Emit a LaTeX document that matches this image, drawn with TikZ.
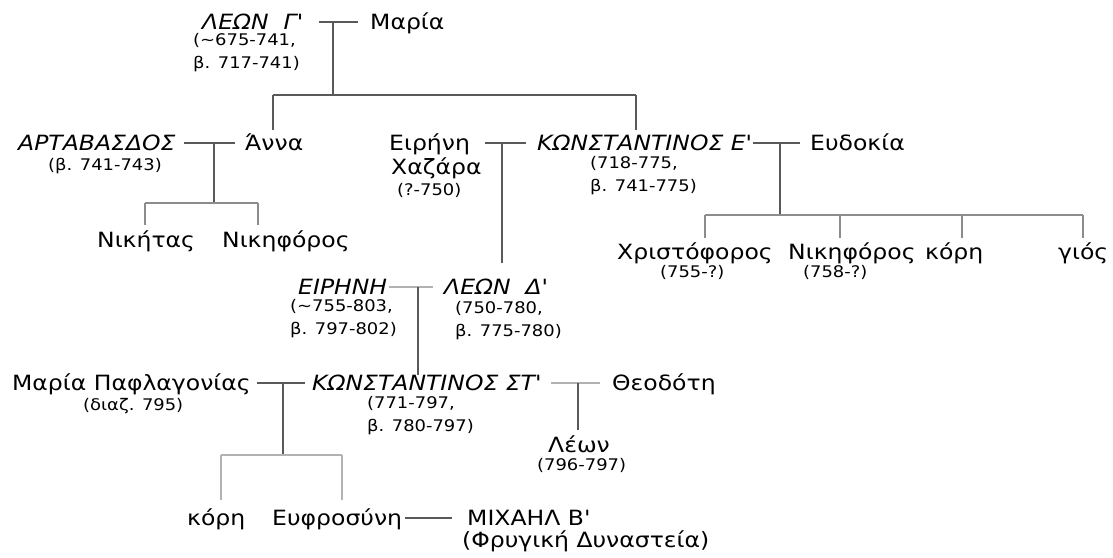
\documentclass[tikz,border=0pt]{standalone}
\usepackage{fontspec}
\setmainfont{DejaVu Sans}[FakeStretch=1.12]
\tikzset{
	name node/.style={inner sep=0, anchor=west, text height=15pt, text depth=0pt, font=\fontsize{21}{25}\selectfont},
	ruler node/.style={name node, font=\fontsize{21}{25}\selectfont\itshape},
	date node/.style={inner sep=0, anchor=north west, align=left, font=\fontsize{16}{23}\selectfont},
	dark line/.style={draw=black!65, line width=1.6pt},
	mid line/.style={draw=black!45, line width=1.6pt},
	light line/.style={draw=black!30, line width=1.6pt},
	to child/.style={shorten >=#1},
}
\newcommand{\ap}{\textquotesingle}

\begin{document}
\begin{tikzpicture}[x=1pt, y=-1pt]
  \path[fill=white] (0,0) rectangle (1113,557);
  \useasboundingbox (0,0) rectangle (1113,557);

  % first generation
  \node(leon3)[ruler node] at (202,22) {ΛΕΩΝ~~Γ\ap};
  \node(leon3d)[date node] at (193,33.5) {(\textasciitilde675-741,\\β. 717-741)};
  \node(maria)[name node] at (370,22) {Μαρία};

  % second generation
  \node(artav)[ruler node] at (18,143) {ΑΡΤΑΒΑΣΔΟΣ};
  \node(artavd)[date node] at (48,158.5) {(β. 741-743)};
  \node(anna)[name node] at (245,143) {Άννα};
  \node(irene1)[name node] at (389,143) {Ειρήνη};
  \node(irene1b)[name node] at (391,167) {Χαζάρα};
  \node(irene1d)[date node] at (397,183.5) {(?-750)};
  \node(kon5)[ruler node] at (537,143) {ΚΩΝΣΤΑΝΤΙΝΟΣ Ε\ap};
  \node(kon5d)[date node] at (590,156.5) {(718-775,\\β. 741-775)};
  \node(eudokia)[name node] at (810,143) {Ευδοκία};

  % third generation
  \node(nikitas)[name node] at (97,240) {Νικήτας};
  \node(nikif1)[name node] at (222,240) {Νικηφόρος};
  \node(christ)[name node] at (617,252) {Χριστόφορος};
  \node(christd)[date node] at (660,265.5) {(755-?)};
  \node(nikif2)[name node] at (788,252) {Νικηφόρος};
  \node(nikif2d)[date node] at (803,265.5) {(758-?)};
  \node(kori1)[name node] at (925,252) {κόρη};
  \node(gios)[name node] at (1058,252) {γιός};
  \node(irene2)[ruler node] at (298,287) {ΕΙΡΗΝΗ};
  \node(irene2d)[date node] at (290,299.5) {(\textasciitilde755-803,\\β. 797-802)};
  \node(leon4)[ruler node] at (444,287) {ΛΕΩΝ~~Δ\ap};
  \node(leon4d)[date node] at (455,301.5) {(750-780,\\β. 775-780)};

  % fourth generation
  \node(mariap)[name node] at (12,383) {Μαρία Παφλαγονίας};
  \node(mariapd)[date node] at (83,398.5) {(διαζ. 795)};
  \node(kon6)[ruler node] at (312,383) {ΚΩΝΣΤΑΝΤΙΝΟΣ ΣΤ\ap};
  \node(kon6d)[date node] at (367,396.5) {(771-797,\\β. 780-797)};
  \node(theod)[name node] at (612,383) {Θεοδότη};
  \node(leon5)[name node] at (548,445) {Λέων};
  \node(leon5d)[date node] at (537,458.5) {(796-797)};

  % fifth generation
  \node(kori2)[name node] at (187,518) {κόρη};
  \node(efros)[name node] at (272,518) {Ευφροσύνη};
  \node(michael)[name node] at (467,518) {ΜΙΧΑΗΛ Β\ap};
  \node(michaeld)[name node] at (462,540) {(Φρυγική Δυναστεία)};

  % junctions
  \coordinate (m1) at (333,22);
  \coordinate (k1) at (333,95);
  \coordinate (k1l) at (273,95);
  \coordinate (k1r) at (636,95);
  \coordinate (m2) at (214,143);
  \coordinate (k2) at (214,203);
  \coordinate (k2l) at (145,203);
  \coordinate (k2r) at (258,203);
  \coordinate (m3) at (502,143);
  \coordinate (m4) at (780,143);
  \coordinate (k4) at (780,215);
  \coordinate (k4l) at (705,215);
  \coordinate (k4a) at (840,215);
  \coordinate (k4b) at (962,215);
  \coordinate (k4r) at (1083,215);
  \coordinate (m5) at (418,287);
  \coordinate (m6) at (283,383);
  \coordinate (k6) at (283,455);
  \coordinate (k6l) at (221,455);
  \coordinate (k6r) at (342,455);
  \coordinate (m7) at (578,383);

  % marriages
  \draw[dark line, shorten <=16pt, shorten >=12pt] (leon3.east) -- (maria.west);
  \draw[dark line, shorten <=8pt, shorten >=10pt] (artav.east) -- (anna.west);
  \draw[dark line, shorten <=15pt, shorten >=11pt] (irene1.east) -- (kon5.west);
  \draw[dark line, shorten <=1pt, shorten >=10pt] (kon5.east) -- (eudokia.west);
  \draw[light line, shorten <=2pt, shorten >=11pt] (irene2.east) -- (leon4.west);
  \draw[dark line, shorten <=6pt, shorten >=7pt] (mariap.east) -- (kon6.west);
  \draw[light line, shorten <=10pt, shorten >=12pt] (kon6.east) -- (theod.west);
  \draw[dark line, shorten <=3pt, shorten >=15pt] (efros.east) -- (michael.west);

  % descent
  \draw[dark line] (m1) -- (k1);
  \draw[dark line] (k1l) -- (k1r);
  \draw[dark line, to child=5.5pt] (k1l) -- (k1l |- anna.north);
  \draw[dark line, to child=5.5pt] (k1r) -- (k1r |- kon5.north);
  \draw[dark line] (m2) -- (k2);
  \draw[mid line] (k2l) -- (k2r);
  \draw[mid line, to child=7.5pt] (k2l) -- (k2l |- nikitas.north);
  \draw[mid line, to child=7.5pt] (k2r) -- (k2r |- nikif1.north);
  \draw[dark line, to child=16pt] (m3) -- (m3 |- leon4.north);
  \draw[dark line] (m4) -- (k4);
  \draw[mid line] (k4l) -- (k4r);
  \foreach \k/\c in {k4l/christ, k4a/nikif2, k4b/kori1, k4r/gios}
    \draw[mid line, to child=6.5pt] (\k) -- (\k |- \c.north);
  \draw[dark line] (m5) -- (m5 |- kon6.north);
  \draw[dark line] (m6) -- (k6);
  \draw[light line] (k6l) -- (k6r);
  \draw[light line, to child=10pt] (k6l) -- (k6l |- kori2.north);
  \draw[light line, to child=10pt] (k6r) -- (k6r |- efros.north);
  \draw[dark line, to child=7.5pt] (m7) -- (m7 |- leon5.north);

\end{tikzpicture}
\end{document}
